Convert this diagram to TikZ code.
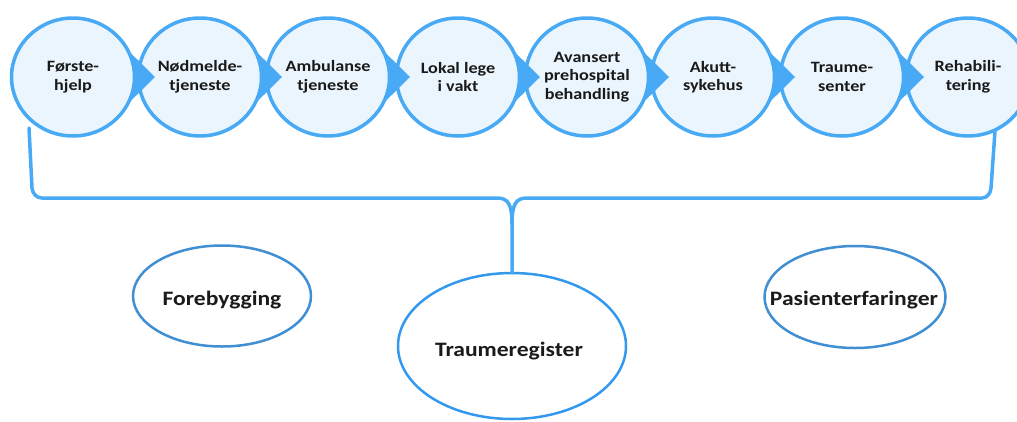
\documentclass[tikz,border=0pt]{standalone}
\usepackage{fontspec}
\setmainfont{Carlito}
\newfontfamily\cf[FakeStretch=1.15]{Carlito}
\usetikzlibrary{shapes.geometric,calc}
\definecolor{lineblue}{HTML}{48A9F4}
\definecolor{fillblue}{HTML}{EAF5FD}
\definecolor{ellblue}{HTML}{3F8FD2}
\definecolor{trblue}{HTML}{3399EE}
\definecolor{txt}{HTML}{1A1A1A}
\begin{document}
\begin{tikzpicture}[x=1pt,y=1pt,
  stage/.style={ellipse, draw=lineblue, line width=3.5pt, fill=fillblue,
    minimum width=123pt, minimum height=118pt, inner sep=0pt, outer sep=0pt,
    text=txt, align=center,
    font=\cf\bfseries\fontsize{15.8}{18.5}\selectfont},
  oval/.style={ellipse, draw=ellblue, line width=2.5pt, fill=white,
    inner sep=0pt, outer sep=0pt},
  lbl/.style={text=txt, inner sep=0pt, font=\cf\bfseries\fontsize{20.5}{24}\selectfont},
  tipfill/.style={fill=lineblue},
  brace/.style={draw=lineblue, line width=3.5pt, line cap=round, line join=round}]
\useasboundingbox (0,0) rectangle (1017,-421);

% process circles
\node[stage] (c1) at (73,-77)  {Første-\\hjelp};
\node[stage] (c2) at (200,-77) {Nødmelde-\\tjeneste};
\node[stage] (c3) at (328,-77) {Ambulanse\\tjeneste};
\node[stage] (c4) at (458,-77) {Lokal lege\\i vakt};
\node[stage] (c5) at (587,-77) {Avansert\\prehospital\\behandling};
\node[stage] (c6) at (713,-77) {Akutt-\\sykehus};
\node[stage] (c7) at (842,-77) {Traume-\\senter};
\node[stage] (c8) at (968,-77) {Rehabili-\\tering};

% arrow tips
\foreach \i in {1,...,7}{
  \fill[tipfill] ($(c\i.center)+(53.1,28.5)$) -- ($(c\i.center)+(82,0)$)
    -- ($(c\i.center)+(53.1,-28.5)$)
    arc[start angle=-29, end angle=29, x radius=61.5, y radius=59] -- cycle;
}

% bottom ovals
\node[oval, minimum width=178pt, minimum height=101pt] (fore) at (222,-296) {};
\node[lbl] (foret) at ($(fore.center)+(0,-4)$) {Forebygging};
\node[oval, draw=trblue, minimum width=228pt, minimum height=146pt] (treg) at (512,-346) {};
\node[lbl] (tregt) at ($(treg.center)+(-3,-5)$) {Traumeregister};
\node[oval, minimum width=181pt, minimum height=102pt] (pas) at (855,-297) {};
\node[lbl] (past) at ($(pas.center)+(-1,-3)$) {Pasienterfaringer};

% bracket
\coordinate (bl) at (29,-128);
\coordinate (br) at (995,-131);
\draw[brace] (bl) -- (32,-188) to[out=-85,in=180] (42,-198) -- (497,-198)
  .. controls (508,-198) and (512,-204) .. (512,-224) -- (treg.north);
\draw[brace] (br) -- (991,-188) to[out=-95,in=0] (982,-198) -- (527,-198)
  .. controls (516,-198) and (512,-204) .. (512,-224);
\end{tikzpicture}
\end{document}
